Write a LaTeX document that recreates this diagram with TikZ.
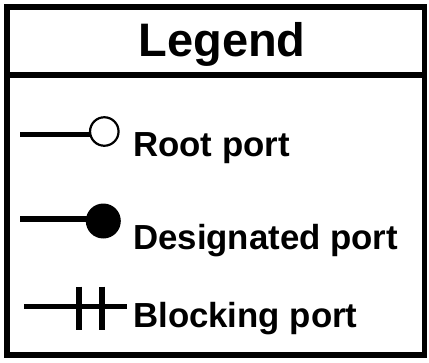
\documentclass[tikz,border=0pt]{standalone}
\usepackage{fontspec}
\setmainfont{Liberation Sans}
\begin{document}
\begin{tikzpicture}[x=1pt,y=-1pt,
  frame/.style={draw=black,line width=5.5pt},
  wire/.style={draw=black,line width=5.5pt},
  bar/.style={draw=black,line width=6pt},
  title/.style={anchor=base,inner sep=0pt,font=\fontsize{47}{56}\selectfont\bfseries},
  itemlabel/.style={anchor=base west,inner sep=0pt,font=\fontsize{34.8}{42}\selectfont\bfseries},
  rootport/.style={circle,draw=black,fill=white,line width=2.2pt,minimum size=28.5pt,inner sep=0pt},
  desigport/.style={circle,fill=black,minimum size=35pt,inner sep=0pt}]
\useasboundingbox (0,0) rectangle (429,362);

% frame and header divider
\draw[frame] (7,7) rectangle (424.5,355);
\draw[frame] (7,75) -- (424.5,75);
\node[title] (legend) at (222,56.7) {Legend};

% root port: line ending in an open circle
\coordinate (r0) at (20,134.5);
\draw[wire] (r0) -- (90,134.5);
\node[rootport] (r1) at (104.3,131.5) {};
\node[itemlabel] (rlabel) at (133,156.5) {Root port};

% designated port: line ending in a filled circle
\coordinate (d0) at (20,219);
\node[desigport] (d1) at (103.3,221) {};
\draw[wire] (d0) -- (d0 -| d1.center);
\node[itemlabel] (dlabel) at (133,249.5) {Designated port};

% blocking port: line crossed by two bars
\coordinate (b0) at (24,306.3);
\coordinate (b1) at (126.7,306.3);
\draw[wire] (b0) -- (b1);
\draw[bar] (79,286.7) -- (79,330);
\draw[bar] (101.7,286.7) -- (101.7,330);
\node[itemlabel] (blabel) at (133,327) {Blocking port};
\end{tikzpicture}
\end{document}
